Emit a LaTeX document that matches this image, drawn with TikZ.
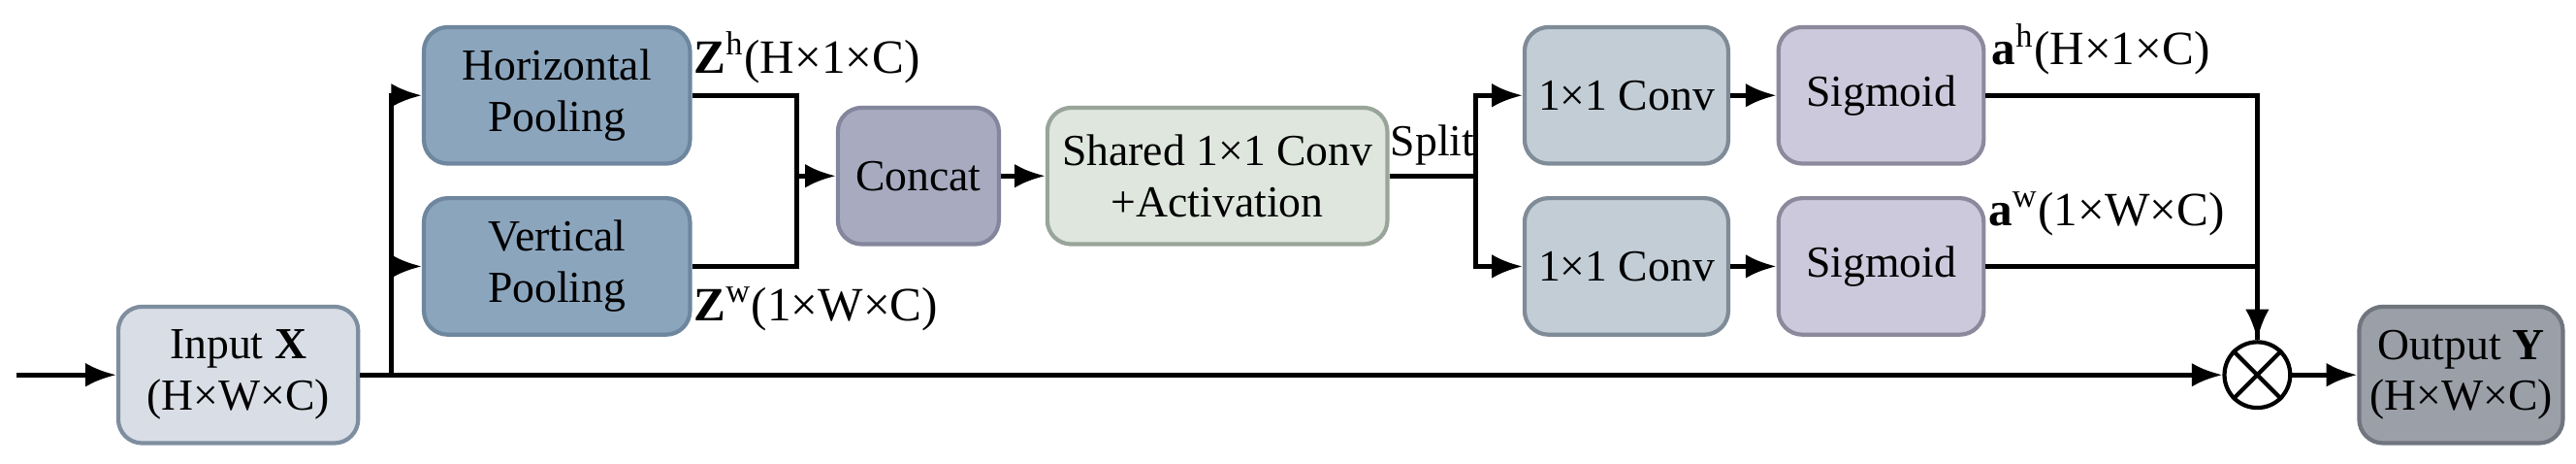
\documentclass[tikz,border=0pt]{standalone}
\usepackage{fontspec}
\setmainfont{Liberation Serif}
\usetikzlibrary{arrows.meta,positioning,calc}
\definecolor{inC}{HTML}{D9DEE6}
\definecolor{inD}{HTML}{7E8EA0}
\definecolor{poolC}{HTML}{8BA5BD}
\definecolor{poolD}{HTML}{6E879E}
\definecolor{catC}{HTML}{A8ABC0}
\definecolor{catD}{HTML}{83869C}
\definecolor{shC}{HTML}{DEE6DE}
\definecolor{shD}{HTML}{9AA59A}
\definecolor{cvC}{HTML}{C2CDD6}
\definecolor{cvD}{HTML}{7F8C98}
\definecolor{sgC}{HTML}{CDC9DC}
\definecolor{sgD}{HTML}{8D899C}
\definecolor{outC}{HTML}{9A9FA8}
\definecolor{outD}{HTML}{70757E}
\tikzset{
  blk/.style={draw, line width=1.2pt, rounded corners=7pt, align=center,
    font=\fontsize{13}{15}\selectfont, inner sep=0pt},
  lbl/.style={font=\fontsize{14}{16}\selectfont, inner sep=0pt},
  flow/.style={line width=1.4pt, -{Latex[length=9pt,width=7pt]}},
  wire/.style={line width=1.4pt}
}
\begin{document}
\begin{tikzpicture}[x=0.01694cm,y=-0.01694cm]
    \useasboundingbox (0,0) rectangle (1568,281.6);
    % blocks
    \node[blk, fill=inC, draw=inD, minimum width=146*0.01694cm, minimum height=83*0.01694cm] (in) at (145,228) {Input \textbf{X}\\(H×W×C)};
    \node[blk, fill=poolC, draw=poolD, minimum width=162*0.01694cm, minimum height=83*0.01694cm] (hp) at (339,58) {Horizontal\\Pooling};
    \node[blk, fill=poolC, draw=poolD, minimum width=162*0.01694cm, minimum height=83*0.01694cm] (vp) at (339,162) {Vertical\\Pooling};
    \node[blk, fill=catC, draw=catD, minimum width=98*0.01694cm, minimum height=83*0.01694cm] (cat) at (559,107) {Concat};
    \node[blk, fill=shC, draw=shD, minimum width=207*0.01694cm, minimum height=83*0.01694cm] (sh) at (741,107) {Shared 1×1 Conv\\+Activation};
    \node[blk, fill=cvC, draw=cvD, minimum width=124*0.01694cm, minimum height=83*0.01694cm] (cvh) at (990,58) {1×1 Conv};
    \node[blk, fill=cvC, draw=cvD, minimum width=124*0.01694cm, minimum height=83*0.01694cm] (cvw) at (990,162) {1×1 Conv};
    \node[blk, fill=sgC, draw=sgD, minimum width=125*0.01694cm, minimum height=83*0.01694cm] (sgh) at (1145,58) {Sigmoid};
    \node[blk, fill=sgC, draw=sgD, minimum width=125*0.01694cm, minimum height=83*0.01694cm] (sgw) at (1145,162) {Sigmoid};
    \node[draw, circle, line width=1.2pt, minimum size=40*0.01694cm, inner sep=0pt] (mul) at (1374,228) {};
    \draw[line width=1.2pt] (mul.north west) -- (mul.south east) (mul.north east) -- (mul.south west);
    \node[blk, fill=outC, draw=outD, minimum width=124*0.01694cm, minimum height=83*0.01694cm] (out) at (1498,228) {Output \textbf{Y}\\(H×W×C)};

    % labels
    \node[lbl, anchor=west] (zh) at (422,35) {$\mathbf{Z}^{\mathrm{h}}$(H×1×C)};
    \node[lbl, anchor=west] (zw) at (422,188) {$\mathbf{Z}^{\mathrm{w}}$(1×W×C)};
    \node[lbl, anchor=west] (ah) at (1212,30) {$\mathbf{a}^{\mathrm{h}}$(H×1×C)};
    \node[lbl, anchor=west] (aw) at (1210,130) {$\mathbf{a}^{\mathrm{w}}$(1×W×C)};
    \node[font=\fontsize{13}{15}\selectfont, inner sep=0pt] (split) at (872,88) {Split};

    % connectors
    \coordinate (src) at (10,228);
    \coordinate (br) at (238,228);
    \coordinate (jn) at (485,107);
    \coordinate (sp) at (898,107);
    \draw[flow] (src) -- (in);
    \draw[flow] (in) -- (mul);
    \draw[flow] (br) |- (hp);
    \draw[flow] (br) |- (vp);
    \draw[wire] (hp.east) -| (jn);
    \draw[wire] (vp.east) -| (jn);
    \draw[flow] (jn) -- (cat);
    \draw[flow] (cat) -- (sh);
    \draw[wire] (sh) -- (sp);
    \draw[flow] (sp) |- (cvh);
    \draw[flow] (sp) |- (cvw);
    \draw[flow] (cvh) -- (sgh);
    \draw[flow] (cvw) -- (sgw);
    \draw[wire] (sgw.east) -| (mul.north);
    \draw[flow] (sgh.east) -| (mul.north);
    \draw[flow] (mul) -- (out);
\end{tikzpicture}
\end{document}
